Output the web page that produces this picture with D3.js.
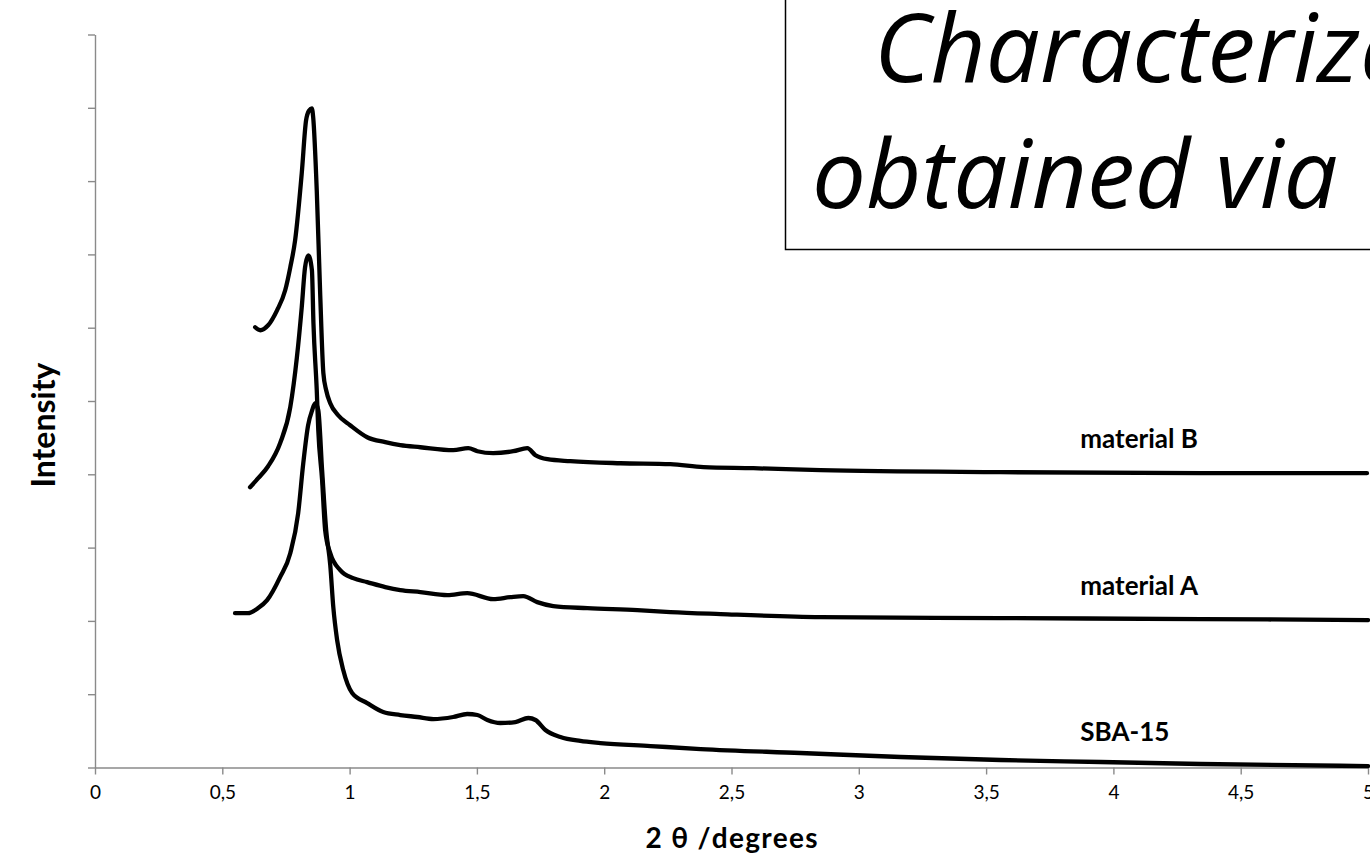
<!DOCTYPE html>
<html>
<head>
<meta charset="utf-8">
<script src="https://cdn.jsdelivr.net/npm/d3@7"></script>
<style>
  body { margin: 0; background: #fff; overflow: hidden; }
  text { font-family: Lato, "Open Sans", sans-serif; }
</style>
</head>
<body>
<svg width="1370" height="855"></svg>
<script>
// tick values
var xTicks = [0, 0.5, 1, 1.5, 2, 2.5, 3, 3.5, 4, 4.5, 5];
var yTicks = [0, 1, 2, 3, 4, 5, 6, 7, 8, 9, 10];

// series names
var seriesNames = ["SBA-15", "material A", "material B"];

// SBA-15
var sbaX = [0.550, 0.601, 0.641, 0.676, 0.727, 0.767, 0.798, 0.818, 0.837, 0.853, 0.865, 0.877, 0.892, 0.908, 0.924, 0.936, 0.951, 0.975, 1.010, 1.069, 1.132, 1.199, 1.266, 1.329, 1.407, 1.462, 1.502, 1.541, 1.592, 1.651, 1.702, 1.730, 1.769, 1.828, 1.906, 1.985, 2.182, 2.379, 2.771, 3.164, 3.557, 3.950, 4.344, 5.0];
var sbaY = [2.106, 2.106, 2.175, 2.283, 2.597, 2.924, 3.470, 4.151, 4.669, 4.874, 4.970, 4.874, 4.056, 3.238, 2.761, 2.188, 1.738, 1.329, 1.016, 0.879, 0.757, 0.716, 0.689, 0.661, 0.689, 0.730, 0.716, 0.648, 0.607, 0.620, 0.675, 0.648, 0.511, 0.416, 0.362, 0.334, 0.293, 0.252, 0.198, 0.143, 0.102, 0.075, 0.048, 0.020];

// material A
var matAX = [0.609, 0.641, 0.680, 0.727, 0.767, 0.793, 0.812, 0.825, 0.838, 0.852, 0.858, 0.871, 0.877, 0.892, 0.904, 0.924, 0.963, 1.014, 1.069, 1.140, 1.199, 1.278, 1.384, 1.462, 1.564, 1.631, 1.682, 1.737, 1.800, 1.934, 2.130, 2.260, 2.457, 2.850, 3.557, 4.344, 5.0];
var matAY = [3.824, 3.947, 4.110, 4.424, 4.915, 5.596, 6.278, 6.823, 6.987, 6.783, 6.060, 5.147, 4.602, 3.920, 3.238, 2.924, 2.692, 2.583, 2.529, 2.461, 2.420, 2.393, 2.352, 2.379, 2.297, 2.324, 2.338, 2.256, 2.202, 2.174, 2.147, 2.120, 2.093, 2.052, 2.038, 2.025, 2.011];

// material B
var matBX = [0.629, 0.649, 0.680, 0.715, 0.747, 0.767, 0.786, 0.812, 0.829, 0.841, 0.852, 0.857, 0.871, 0.884, 0.897, 0.908, 0.924, 0.955, 1.002, 1.069, 1.140, 1.199, 1.278, 1.407, 1.466, 1.502, 1.564, 1.643, 1.698, 1.730, 1.777, 1.867, 2.064, 2.260, 2.390, 2.586, 2.850, 3.557, 4.344, 4.996];
var matBY = [6.006, 5.965, 6.033, 6.237, 6.510, 6.824, 7.192, 8.105, 8.828, 8.964, 8.991, 8.869, 7.873, 6.510, 5.378, 5.147, 4.970, 4.806, 4.670, 4.506, 4.438, 4.397, 4.369, 4.329, 4.356, 4.315, 4.288, 4.315, 4.356, 4.260, 4.206, 4.179, 4.151, 4.138, 4.097, 4.083, 4.056, 4.029, 4.015, 4.015];

var svg = d3.select("svg");

var x = d3.scaleLinear().domain([0, 5]).range([95, 1368]);
var y = d3.scaleLinear().domain([0, 10]).range([767.5, 34.5]);

var virgula = d3.formatLocale({decimal: ",", thousands: ".", grouping: [3], currency: ["", ""]}).format("~g");

// eixos
var gx = svg.append("g")
    .attr("transform", "translate(0," + y(0) + ")")
    .call(d3.axisBottom(x).tickValues(xTicks).tickSize(7).tickSizeOuter(0).tickPadding(11).tickFormat(virgula));
gx.attr("font-size", null).attr("font-family", null);
gx.selectAll("text")
    .style("font-size", "19px")
    .style("font-family", "Lato, sans-serif")
    .attr("fill", "#000");

var gy = svg.append("g")
    .attr("transform", "translate(" + x(0) + ",0)")
    .call(d3.axisLeft(y).tickValues(yTicks).tickSize(7).tickSizeOuter(0).tickFormat(""));

svg.selectAll(".domain, .tick line").attr("stroke", "#8a8a8a").attr("stroke-width", 1.4);

// curvas
var linha = d3.line()
    .x(function(d) { return x(d[0]); })
    .y(function(d) { return y(d[1]); })
    .curve(d3.curveMonotoneX);

var series = [
  {name: seriesNames[0], xs: sbaX, ys: sbaY},
  {name: seriesNames[1], xs: matAX, ys: matAY},
  {name: seriesNames[2], xs: matBX, ys: matBY}
];

svg.append("g").selectAll("path")
  .data(series)
  .enter().append("path")
    .attr("d", function(s) { return linha(s.xs.map(function(v, i) { return [v, s.ys[i]]; })); })
    .attr("fill", "none")
    .attr("stroke", "#000")
    .attr("stroke-width", 4.3)
    .attr("stroke-linejoin", "round")
    .attr("stroke-linecap", "round");

// nomes das series
svg.append("g").selectAll("text")
  .data(series)
  .enter().append("text")
    .attr("x", x(3.87))
    .attr("y", function(s) { return y(s.ys[s.ys.length - 1]) - 25; })
    .attr("font-size", 26)
    .attr("font-weight", "bold")
    .text(function(s) { return s.name; });

// titulos dos eixos
svg.append("text")
    .attr("x", x(2.5))
    .attr("y", 848)
    .attr("text-anchor", "middle")
    .attr("font-size", 28)
    .attr("font-weight", "bold")
    .attr("textLength", 172)
    .attr("lengthAdjust", "spacing")
    .text("2 θ /degrees");

svg.append("text")
    .attr("transform", "translate(55,425) rotate(-90)")
    .attr("text-anchor", "middle")
    .attr("font-size", 32)
    .attr("font-weight", "bold")
    .text("Intensity");

// caixa do titulo
svg.append("rect")
    .attr("x", 785.5)
    .attr("y", -10)
    .attr("width", 700)
    .attr("height", 259.5)
    .attr("fill", "#fff")
    .attr("stroke", "#000")
    .attr("stroke-width", 1.5);

svg.append("text")
    .attr("x", 874)
    .attr("y", 82)
    .attr("font-size", 96)
    .attr("font-style", "italic")
    .style("font-family", "'Open Sans', sans-serif")
    .text("Characterization");

svg.append("text")
    .attr("x", 812)
    .attr("y", 208)
    .attr("font-size", 96)
    .attr("font-style", "italic")
    .style("font-family", "'Open Sans', sans-serif")
    .text("obtained via");
</script>
</body>
</html>
